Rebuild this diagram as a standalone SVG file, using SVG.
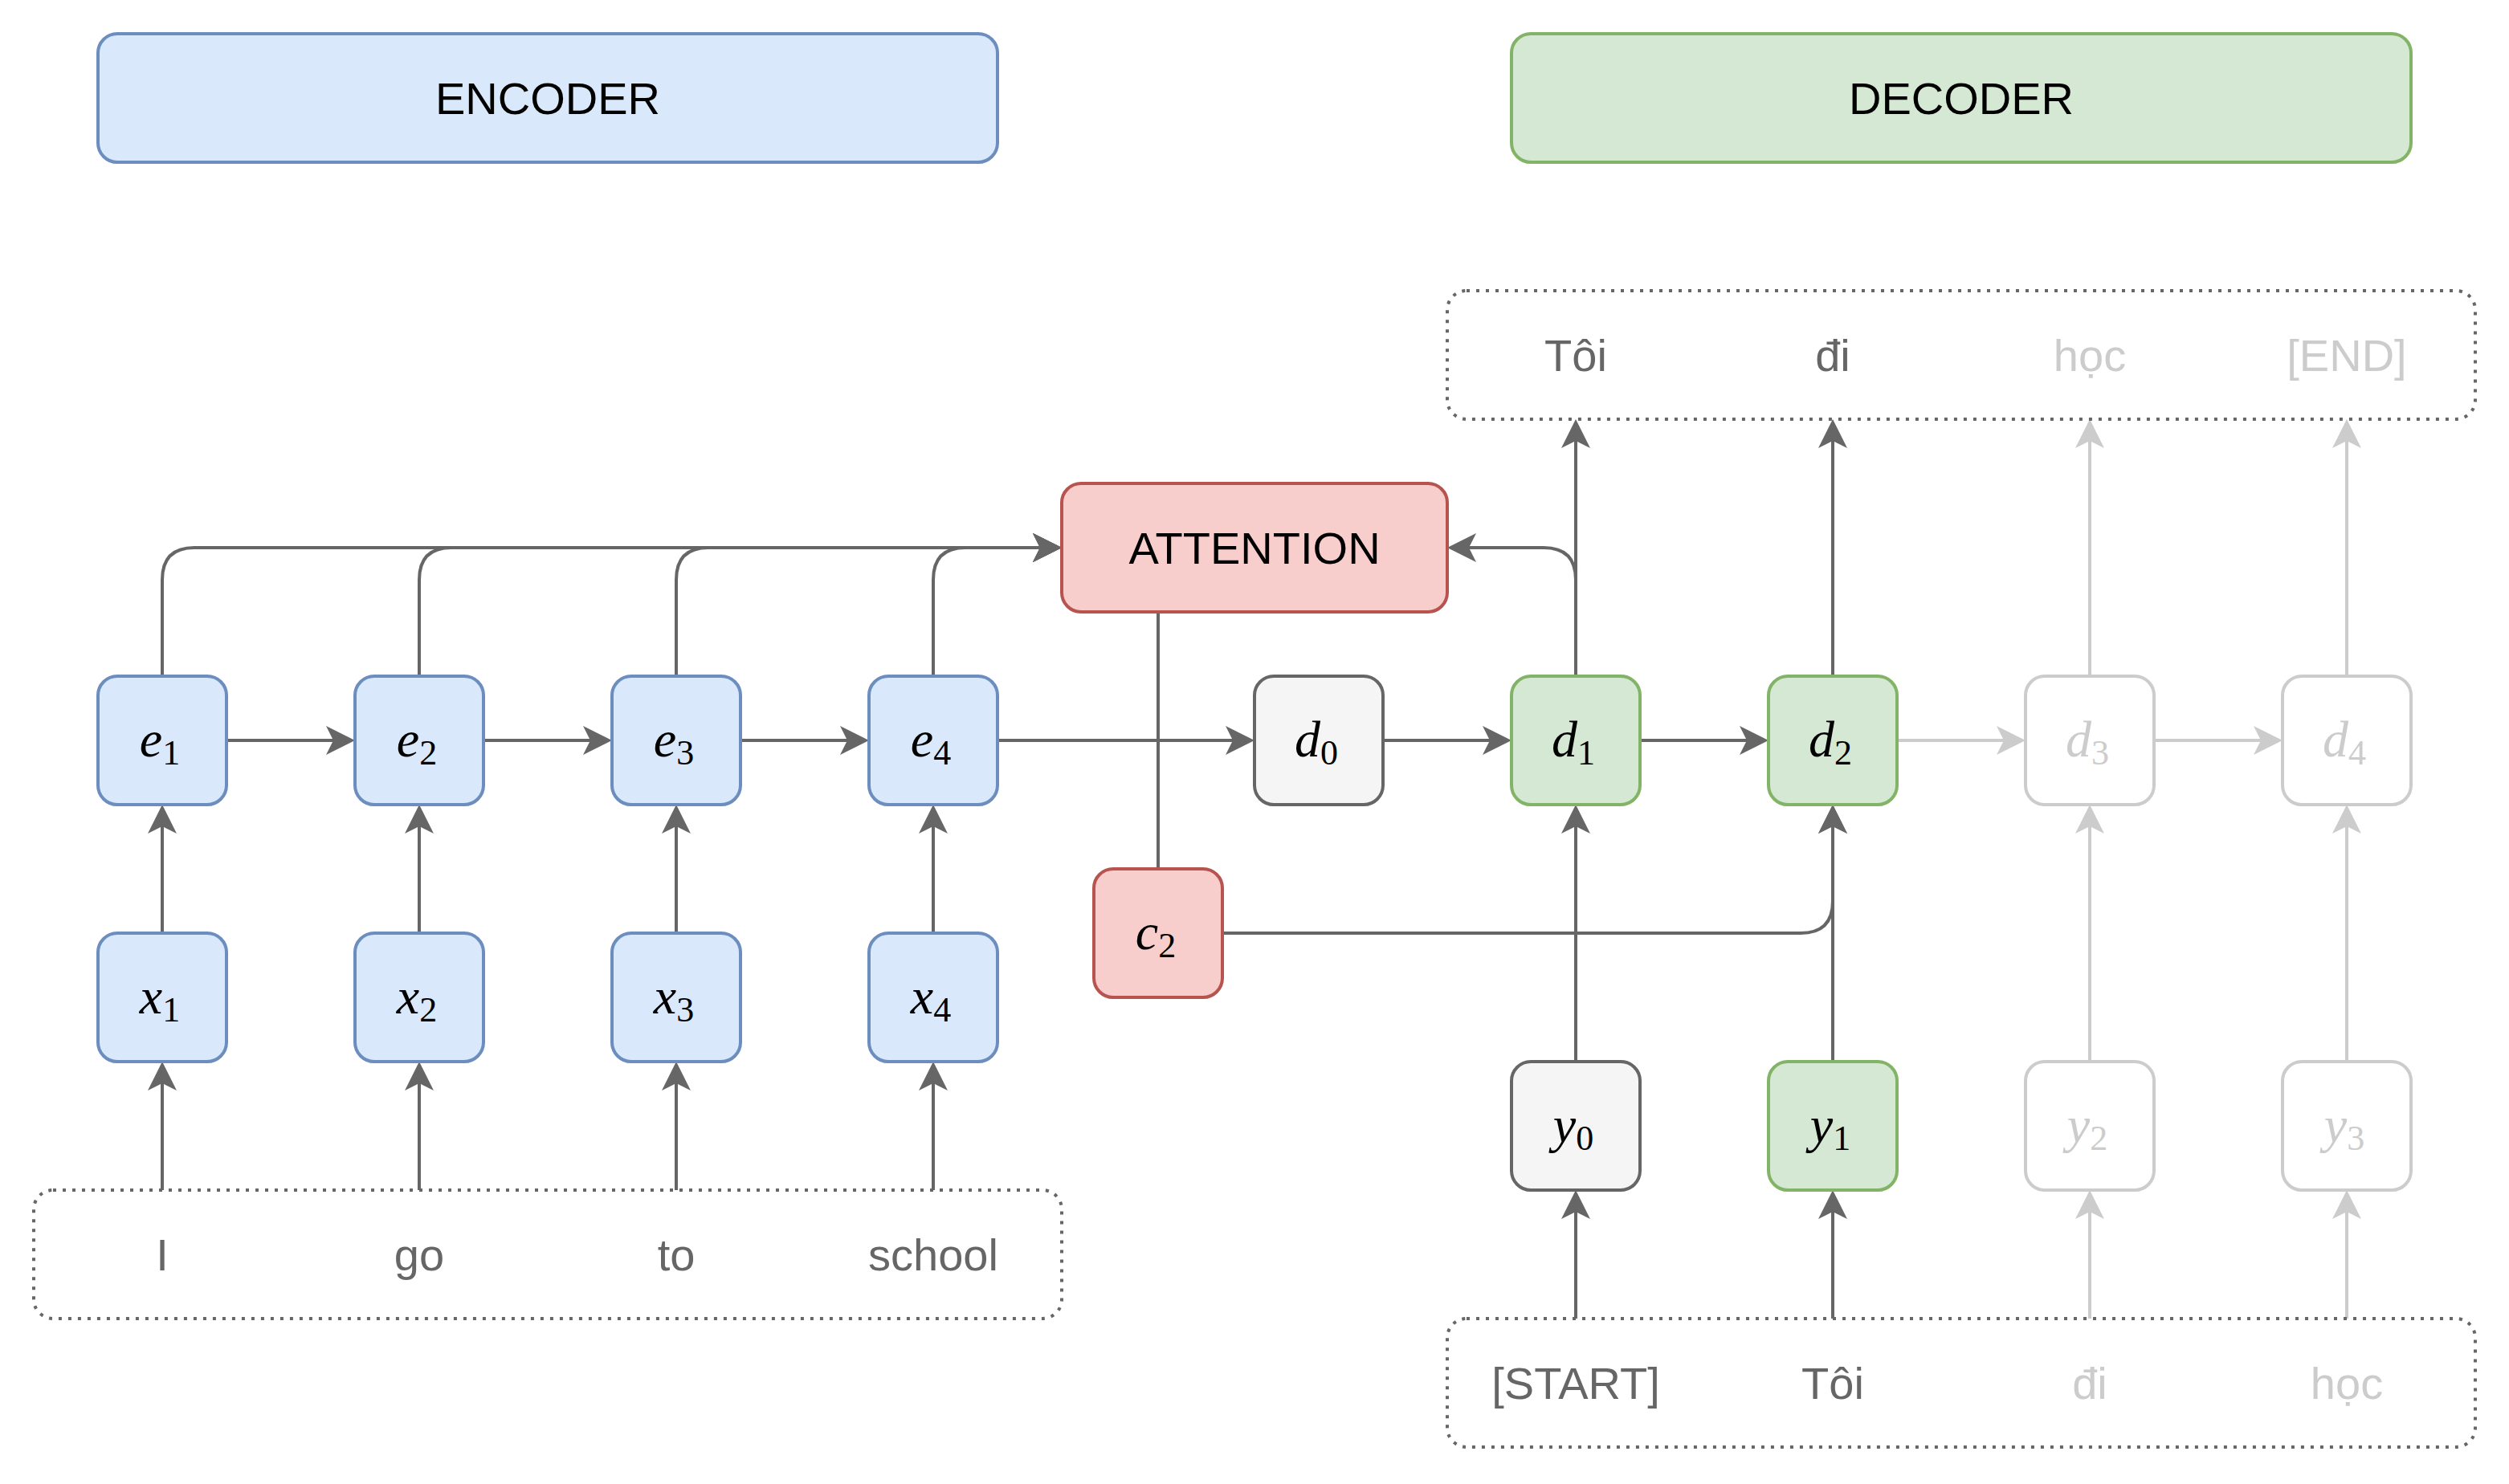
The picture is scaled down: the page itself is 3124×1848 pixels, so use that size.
<svg xmlns="http://www.w3.org/2000/svg" width="3124" height="1848" viewBox="0 0 3124 1848">
<style>
.box{stroke-width:4}
.blue{fill:#dae8fc;stroke:#6c8ebf}
.green{fill:#d5e8d4;stroke:#82b366}
.red{fill:#f8cecc;stroke:#b85450}
.gray{fill:#f5f5f5;stroke:#666666}
.faded{fill:#ffffff;stroke:#cccccc}
.dotted{fill:none;stroke:#666666;stroke-width:4;stroke-dasharray:4 8}
.lbl{font-family:"Liberation Sans",Arial,sans-serif;font-size:56px;text-anchor:middle;fill:#000000}
.tok{font-family:"Liberation Sans",Arial,sans-serif;font-size:56px;text-anchor:middle;fill:#666666}
.tokf{font-family:"Liberation Sans",Arial,sans-serif;font-size:56px;text-anchor:middle;fill:#cccccc}
.m{font-family:"Liberation Serif","Times New Roman",serif;font-size:64px;font-style:italic;text-anchor:middle;fill:#000000}
.mf{font-family:"Liberation Serif","Times New Roman",serif;font-size:64px;font-style:italic;text-anchor:middle;fill:#cccccc}
.sub{font-size:44px;font-style:normal}
.e{fill:none;stroke:#666666;stroke-width:4}
.ef{fill:none;stroke:#cccccc;stroke-width:4}
.ea{marker-end:url(#arr)}
.efa{marker-end:url(#arrf)}
</style>
<defs>
<marker id="arr" viewBox="0 0 36 36" markerUnits="userSpaceOnUse" markerWidth="36" markerHeight="36" refX="16" refY="18" orient="auto">
<path d="M36,18 L0,0 L9,18 L0,36 Z" fill="#666666"/>
</marker>
<marker id="arrf" viewBox="0 0 36 36" markerUnits="userSpaceOnUse" markerWidth="36" markerHeight="36" refX="16" refY="18" orient="auto">
<path d="M36,18 L0,0 L9,18 L0,36 Z" fill="#cccccc"/>
</marker>
</defs>
<rect width="3124" height="1848" fill="#ffffff"/>

<g id="connectors">
<!-- encoder inputs to x -->
<path class="e ea" d="M202,1482 L202,1342"/>
<path class="e ea" d="M522,1482 L522,1342"/>
<path class="e ea" d="M842,1482 L842,1342"/>
<path class="e ea" d="M1162,1482 L1162,1342"/>
<!-- x to e -->
<path class="e ea" d="M202,1162 L202,1022"/>
<path class="e ea" d="M522,1162 L522,1022"/>
<path class="e ea" d="M842,1162 L842,1022"/>
<path class="e ea" d="M1162,1162 L1162,1022"/>
<!-- e chain -->
<path class="e ea" d="M282,922 L422,922"/>
<path class="e ea" d="M602,922 L742,922"/>
<path class="e ea" d="M922,922 L1062,922"/>
<path class="e ea" d="M1242,922 L1542,922"/>
<!-- e to attention -->
<path class="e ea" d="M202,842 L202,722 Q202,682 242,682 L1302,682"/>
<path class="e ea" d="M522,842 L522,722 Q522,682 562,682 L1302,682"/>
<path class="e ea" d="M842,842 L842,722 Q842,682 882,682 L1302,682"/>
<path class="e ea" d="M1162,842 L1162,722 Q1162,682 1202,682 L1302,682"/>
<!-- attention to c2 -->
<path class="e" d="M1442,762 L1442,1082"/>
<!-- d chain -->
<path class="e ea" d="M1722,922 L1862,922"/>
<path class="e ea" d="M2042,922 L2182,922"/>
<path class="ef efa" d="M2362,922 L2502,922"/>
<path class="ef efa" d="M2682,922 L2822,922"/>
<!-- d to outputs -->
<path class="e ea" d="M1962,842 L1962,542"/>
<path class="e ea" d="M2282,842 L2282,542"/>
<path class="ef efa" d="M2602,842 L2602,542"/>
<path class="ef efa" d="M2922,842 L2922,542"/>
<!-- d1 to attention -->
<path class="e ea" d="M1962,842 L1962,722 Q1962,682 1922,682 L1822,682"/>
<!-- c2 to d2 -->
<path class="e ea" d="M1522,1162 L2242,1162 Q2282,1162 2282,1122 L2282,1022"/>
<!-- y to d -->
<path class="e ea" d="M1962,1322 L1962,1022"/>
<path class="e ea" d="M2282,1322 L2282,1022"/>
<path class="ef efa" d="M2602,1322 L2602,1022"/>
<path class="ef efa" d="M2922,1322 L2922,1022"/>
<!-- decoder inputs to y -->
<path class="e ea" d="M1962,1642 L1962,1502"/>
<path class="e ea" d="M2282,1642 L2282,1502"/>
<path class="ef efa" d="M2602,1642 L2602,1502"/>
<path class="ef efa" d="M2922,1642 L2922,1502"/>
</g>

<g id="encoder">
<rect class="box blue" x="122" y="42" width="1120" height="160" rx="24"/>
<text class="lbl" x="682" y="142">ENCODER</text>
</g>
<g id="decoder">
<rect class="box green" x="1882" y="42" width="1120" height="160" rx="24"/>
<text class="lbl" x="2442" y="142">DECODER</text>
</g>

<g id="outputs">
<rect class="dotted" x="1802" y="362" width="1280" height="160" rx="24"/>
<text class="tok" x="1962" y="462">Tôi</text>
<text class="tok" x="2282" y="462">đi</text>
<text class="tokf" x="2602" y="462">học</text>
<text class="tokf" x="2922" y="462">[END]</text>
</g>

<g id="attention">
<rect class="box red" x="1322" y="602" width="480" height="160" rx="24"/>
<text class="lbl" x="1562" y="702">ATTENTION</text>
</g>

<g id="e1"><rect class="box blue" x="122" y="842" width="160" height="160" rx="24"/><text class="m" x="199" y="942">e<tspan class="sub" dy="10">1</tspan></text></g>
<g id="e2"><rect class="box blue" x="442" y="842" width="160" height="160" rx="24"/><text class="m" x="519" y="942">e<tspan class="sub" dy="10">2</tspan></text></g>
<g id="e3"><rect class="box blue" x="762" y="842" width="160" height="160" rx="24"/><text class="m" x="839" y="942">e<tspan class="sub" dy="10">3</tspan></text></g>
<g id="e4"><rect class="box blue" x="1082" y="842" width="160" height="160" rx="24"/><text class="m" x="1159" y="942">e<tspan class="sub" dy="10">4</tspan></text></g>

<g id="d0"><rect class="box gray" x="1562" y="842" width="160" height="160" rx="24"/><text class="m" x="1639" y="942">d<tspan class="sub" dy="10">0</tspan></text></g>
<g id="d1"><rect class="box green" x="1882" y="842" width="160" height="160" rx="24"/><text class="m" x="1959" y="942">d<tspan class="sub" dy="10">1</tspan></text></g>
<g id="d2"><rect class="box green" x="2202" y="842" width="160" height="160" rx="24"/><text class="m" x="2279" y="942">d<tspan class="sub" dy="10">2</tspan></text></g>
<g id="d3"><rect class="box faded" x="2522" y="842" width="160" height="160" rx="24"/><text class="mf" x="2599" y="942">d<tspan class="sub" dy="10">3</tspan></text></g>
<g id="d4"><rect class="box faded" x="2842" y="842" width="160" height="160" rx="24"/><text class="mf" x="2919" y="942">d<tspan class="sub" dy="10">4</tspan></text></g>

<g id="c2"><rect class="box red" x="1362" y="1082" width="160" height="160" rx="24"/><text class="m" x="1439" y="1182">c<tspan class="sub" dy="10">2</tspan></text></g>

<g id="x1"><rect class="box blue" x="122" y="1162" width="160" height="160" rx="24"/><text class="m" x="199" y="1262">x<tspan class="sub" dy="10">1</tspan></text></g>
<g id="x2"><rect class="box blue" x="442" y="1162" width="160" height="160" rx="24"/><text class="m" x="519" y="1262">x<tspan class="sub" dy="10">2</tspan></text></g>
<g id="x3"><rect class="box blue" x="762" y="1162" width="160" height="160" rx="24"/><text class="m" x="839" y="1262">x<tspan class="sub" dy="10">3</tspan></text></g>
<g id="x4"><rect class="box blue" x="1082" y="1162" width="160" height="160" rx="24"/><text class="m" x="1159" y="1262">x<tspan class="sub" dy="10">4</tspan></text></g>

<g id="y0"><rect class="box gray" x="1882" y="1322" width="160" height="160" rx="24"/><text class="m" x="1959" y="1422">y<tspan class="sub" dy="10">0</tspan></text></g>
<g id="y1"><rect class="box green" x="2202" y="1322" width="160" height="160" rx="24"/><text class="m" x="2279" y="1422">y<tspan class="sub" dy="10">1</tspan></text></g>
<g id="y2"><rect class="box faded" x="2522" y="1322" width="160" height="160" rx="24"/><text class="mf" x="2599" y="1422">y<tspan class="sub" dy="10">2</tspan></text></g>
<g id="y3"><rect class="box faded" x="2842" y="1322" width="160" height="160" rx="24"/><text class="mf" x="2919" y="1422">y<tspan class="sub" dy="10">3</tspan></text></g>

<g id="enc-inputs">
<rect class="dotted" x="42" y="1482" width="1280" height="160" rx="24"/>
<text class="tok" x="202" y="1582">I</text>
<text class="tok" x="522" y="1582">go</text>
<text class="tok" x="842" y="1582">to</text>
<text class="tok" x="1162" y="1582">school</text>
</g>

<g id="dec-inputs">
<rect class="dotted" x="1802" y="1642" width="1280" height="160" rx="24"/>
<text class="tok" x="1962" y="1742">[START]</text>
<text class="tok" x="2282" y="1742">Tôi</text>
<text class="tokf" x="2602" y="1742">đi</text>
<text class="tokf" x="2922" y="1742">học</text>
</g>
</svg>
